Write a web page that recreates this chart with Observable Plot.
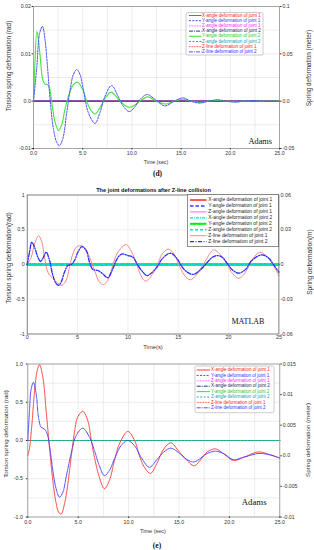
<!DOCTYPE html>
<html><head><meta charset="utf-8">
<script src="https://cdn.jsdelivr.net/npm/d3@7"></script>
<script src="https://cdn.jsdelivr.net/npm/@observablehq/plot@0.6"></script>
<style>
html,body{margin:0;padding:0;background:#fff;}
#page{position:relative;width:314px;height:550px;overflow:hidden;font-family:"Liberation Sans",Arial,sans-serif;}
#page svg{position:absolute;left:0;}
</style></head><body><div id="page"></div>
<script>
// ---------- shared ----------
const seriesNames = [
  "X-angle deformation of joint 1", "Y-angle deformation of joint 1", "Z-angle deformation of joint 1",
  "X-angle deformation of joint 2", "Y-angle deformation of joint 2", "Z-angle deformation of joint 2",
  "Z-line deformation of joint 1", "Z-line deformation of joint 2"];
const flatTime = [0, 25];
const flatVal = [0, 0];

// ---------- panel (d) : Adams ----------
const dTitle = "(d)";
const dXLabel = "Time (sec)";
const dLeftLabel = "Torsion spring deformation (rad)";
const dRightLabel = "Spring deformation (meter)";
const dXTicks = [0, 5, 10, 15, 20, 25];
const dXTickLabels = ["0.0", "5.0", "10.0", "15.0", "20.0", "25.0"];
const dXGrid = [0, 2.5, 5, 7.5, 10, 12.5, 15, 17.5, 20, 22.5, 25];
const dLeftTicks = [-0.01, 0, 0.01, 0.02];
const dLeftTickLabels = ["-0.01", "0.0", "0.01", "0.02"];
const dYGrid = [-0.01, -0.005, 0, 0.005, 0.01, 0.015, 0.02];
const dRightTicks = [-0.05, 0, 0.05, 0.1];
const dRightTickLabels = ["-0.05", "0.0", "0.05", "0.1"];
const dYDomain = [-0.01, 0.02];
const dRightDomain = [-0.05, 0.1];
// Y-angle deformation of joint 1 (blue dashed)
const dTimeY1 = [0, 0.34, 0.61, 0.91, 1.18, 1.42, 1.69, 2.03, 2.36, 2.63, 2.97, 3.38, 3.72, 4.05, 4.39, 4.73, 5.07, 5.57, 6.25, 6.75, 7.26, 7.94, 8.6, 9.1, 9.73, 10.3, 10.8, 11.55, 12.4, 13.35, 14.3, 15.2, 16.0, 16.9, 17.8, 18.7, 19.6, 20.5, 21.4, 22.3, 23.2, 24.1, 25];
const dValY1 = [0, 0.0073, 0.0142, 0.0158, 0.0128, 0.0073, 0.0003, -0.0059, -0.0087, -0.0094, -0.0080, -0.0024, 0.0024, 0.0056, 0.0067, 0.0056, 0.0024, -0.0024, -0.0047, -0.0024, 0.0010, 0.0033, 0.0010, -0.0010, -0.0022, -0.0012, 0.0003, 0.0014, 0.0003, -0.0010, 0, 0.0007, 0, -0.0004, 0, 0.0003, 0, -0.0002, 0, 0.00012, 0, -0.00008, 0];
// Y-angle deformation of joint 2 (green)
const dTimeY2 = [0, 0.13, 0.34, 0.5, 0.68, 0.95, 1.18, 1.42, 1.62, 1.86, 2.2, 2.55, 2.87, 3.2, 3.55, 4.05, 4.5, 5.07, 5.4, 5.8, 6.25, 6.9, 7.4, 7.9, 8.4, 8.8, 9.3, 9.8, 10.3, 10.8, 11.6, 12.5, 13.4, 14.3, 15.2, 16.0, 16.9, 17.8, 18.7, 19.6, 20.5, 21.4, 22.3, 23.2, 24.1, 25];
const dValY2 = [0, 0.0073, 0.0147, 0.0130, 0.0094, 0.0045, 0.0036, 0.0035, 0.0028, -0.0003, -0.0045, -0.0062, -0.0050, -0.0017, 0.0010, 0.0035, 0.0040, 0.0021, 0, -0.0018, -0.0027, -0.0008, 0.0010, 0.0019, 0.0010, 0, -0.0009, -0.0013, -0.0008, 0, 0.0009, 0, -0.0006, 0, 0.0004, 0, -0.00025, 0, 0.0002, 0, -0.00015, 0, 0.0001, 0, -0.00005, 0];

// ---------- panel MATLAB ----------
const mTitle = "The joint deformations after Z-line collision";
const mXLabel = "Time(s)";
const mLeftLabel = "Torsion spring deformation(rad)";
const mRightLabel = "Spring deformation(m)";
const mXTicks = [0, 5, 10, 15, 20, 25];
const mXTickLabels = ["0", "5", "10", "15", "20", "25"];
const mLeftTicks = [-1, -0.5, 0, 0.5, 1];
const mLeftTickLabels = ["-1", "-0.5", "0", "0.5", "1"];
const mRightTicks = [-0.06, -0.03, 0, 0.03, 0.06];
const mRightTickLabels = ["-0.06", "-0.03", "0", "0.03", "0.06"];
const mYDomain = [-1, 1];
const mRightDomain = [-0.06, 0.06];
// Z-line deformation of joint 1 (light red)
const mTimeZ1 = [0, 0.4, 0.73, 1.13, 1.46, 1.72, 2.05, 2.55, 3.05, 3.44, 3.87, 4.2, 4.53, 4.87, 5.2, 5.7, 6.19, 6.69, 7.18, 7.58, 8.0, 8.5, 9.0, 9.83, 10.3, 10.8, 11.3, 11.75, 12.25, 12.9, 13.4, 14.0, 14.5, 15.06, 15.6, 16.2, 16.8, 17.7, 18.5, 19.2, 19.86, 20.4, 21.0, 21.6, 22.4, 23.1, 23.7, 24.4, 25];
const mValZ1 = [0, 0.105, 0.295, 0.414, 0.32, 0.105, -0.11, -0.205, -0.267, -0.30, -0.23, -0.04, 0.152, 0.248, 0.271, 0.248, 0.105, -0.086, -0.252, -0.29, -0.229, -0.014, 0.176, 0.286, 0.2, 0.033, -0.16, -0.24, -0.18, -0.014, 0.15, 0.22, 0.17, 0, -0.15, -0.22, -0.15, 0.05, 0.21, 0.14, 0, -0.13, -0.20, -0.13, 0.08, 0.175, 0.13, 0, -0.16];
// Z-line deformation of joint 2 (blue dash-dot)
const mTimeZ2 = [0, 0.23, 0.46, 0.73, 1.06, 1.32, 1.56, 1.89, 2.22, 2.55, 2.88, 3.11, 3.38, 3.7, 4.04, 4.37, 4.7, 5.03, 5.43, 5.86, 6.19, 6.52, 7.02, 7.5, 8.0, 8.5, 8.84, 9.17, 9.5, 10.0, 10.5, 11.0, 11.5, 11.9, 12.25, 12.9, 13.4, 14.23, 14.9, 15.4, 15.9, 16.5, 17.2, 17.9, 18.4, 18.9, 19.4, 19.9, 20.4, 21.0, 21.7, 22.3, 23.3, 24.0, 24.5, 25];
const mValZ2 = [0, 0.176, 0.32, 0.248, 0.105, 0.043, 0.09, 0.176, 0.057, -0.157, -0.276, -0.30, -0.252, -0.11, -0.014, 0, 0.057, 0.176, 0.257, 0.2, 0.033, -0.071, -0.086, -0.133, -0.19, -0.062, 0.057, 0.129, 0.152, 0.129, 0.105, -0.014, -0.11, -0.16, -0.133, -0.038, 0.081, 0.162, 0.081, -0.038, -0.11, -0.143, -0.076, 0.033, 0.105, 0.129, 0.1, 0.01, -0.08, -0.124, -0.07, 0.057, 0.138, 0.09, -0.01, -0.11];

// ---------- panel (e) : Adams ----------
const eTitle = "(e)";
const eXLabel = "Time (sec)";
const eLeftLabel = "Torsion spring deformation (rad)";
const eRightLabel = "Spring deformation (meter)";
const eXTicks = [0, 5, 10, 15, 20, 25];
const eXTickLabels = ["0.0", "5.0", "10.0", "15.0", "20.0", "25.0"];
const eXGrid = [0, 2.5, 5, 7.5, 10, 12.5, 15, 17.5, 20, 22.5, 25];
const eLeftTicks = [-1, -0.5, 0, 0.5, 1];
const eLeftTickLabels = ["-1.0", "-0.5", "0.0", "0.5", "1.0"];
const eYGrid = [-1, -0.75, -0.5, -0.25, 0, 0.25, 0.5, 0.75, 1];
const eRightTicks = [-0.01, -0.005, 0, 0.005, 0.01, 0.015];
const eRightTickLabels = ["-0.01", "-0.005", "0.0", "0.005", "0.01", "0.015"];
const eYDomain = [-1, 1];
const eRightDomain = [-0.01, 0.015];
// Z-line deformation of joint 1 (red dotted)
const eTimeZ1 = [0, 0.17, 0.4, 0.66, 0.93, 1.16, 1.49, 1.82, 2.15, 2.48, 2.8, 3.07, 3.31, 3.64, 3.97, 4.3, 4.63, 4.96, 5.46, 5.95, 6.28, 6.61, 7.1, 7.6, 8.1, 8.6, 9.1, 9.92, 10.6, 11.08, 11.57, 12.17, 12.8, 13.5, 14.2, 14.97, 15.8, 16.5, 17.1, 17.8, 18.6, 19.4, 20.4, 21.4, 22.9, 24.1, 25];
const eValZ1 = [-0.196, -0.10, 0.20, 0.63, 0.91, 0.99, 0.83, 0.39, -0.09, -0.52, -0.81, -0.94, -0.96, -0.83, -0.57, -0.22, 0.11, 0.31, 0.38, 0.26, 0.02, -0.22, -0.48, -0.63, -0.52, -0.26, -0.04, 0.118, 0.0, -0.2, -0.35, -0.43, -0.3, -0.11, -0.03, -0.14, -0.26, -0.33, -0.26, -0.15, -0.11, -0.17, -0.26, -0.22, -0.15, -0.19, -0.23];
// Z-line deformation of joint 2 (blue dash-dot)
const eTimeZ2 = [0, 0.17, 0.33, 0.56, 0.83, 1.06, 1.32, 1.65, 1.92, 2.15, 2.48, 2.81, 3.14, 3.47, 3.8, 4.3, 4.8, 5.46, 6.12, 6.61, 7.1, 7.6, 8.1, 8.6, 9.26, 9.92, 10.6, 11.24, 12.07, 12.8, 13.5, 14.2, 14.97, 15.8, 16.5, 17.8, 18.6, 19.4, 20.4, 21.4, 22.9, 24.1, 25];
const eValZ2 = [0.0, 0.39, 0.67, 0.76, 0.61, 0.305, 0.174, 0.15, 0.087, -0.065, -0.39, -0.63, -0.74, -0.68, -0.48, -0.17, 0.065, 0.16, 0.044, -0.13, -0.33, -0.46, -0.39, -0.24, -0.065, 0.0, -0.07, -0.22, -0.35, -0.25, -0.15, -0.10, -0.16, -0.25, -0.28, -0.17, -0.14, -0.17, -0.25, -0.22, -0.17, -0.19, -0.23];

// ---------- styles (kept separate from data) ----------
const adamsStyles = [
  {color: "#ff2020", width: 0.9, dash: null},
  {color: "#4a4aff", width: 1.0, dash: "2,1.3"},
  {color: "#ff30ff", width: 0.9, dash: "0.8,0.8"},
  {color: "#1c1c5c", width: 0.9, dash: "4,1,1,1"},
  {color: "#3ee83e", width: 1.1, dash: null},
  {color: "#1a9aaa", width: 0.9, dash: "2,1.5"},
  {color: "#ff3030", width: 0.9, dash: "0.9,0.7"},
  {color: "#3a3aff", width: 0.9, dash: "4,1,1,1"}
];
const adamsTextColors = ["#ff2020", "#3030ff", "#ff20ff", "#1c1c5c", "#22cc22", "#1a9aaa", "#ff2020", "#3030ff"];
const matlabStyles = [
  {color: "#ff5a5a", width: 2.0, dash: null},
  {color: "#3a3aff", width: 1.6, dash: "3.5,2"},
  {color: "#ff66ff", width: 1.0, dash: null},
  {color: "#00dddd", width: 1.2, dash: "3,1,1,1"},
  {color: "#00ee00", width: 2.0, dash: null},
  {color: "#00dddd", width: 1.5, dash: "3,2"},
  {color: "#ff7878", width: 0.9, dash: null},
  {color: "#2a2aff", width: 1.3, dash: "4,1.5,1,1.5"}
];

function rows(ts, vs) { return ts.map((t, i) => ({t, v: vs[i]})); }
function labeler(ticks, labels) {
  return d => { let best = 0; ticks.forEach((t, i) => { if (Math.abs(t - d) < Math.abs(ticks[best] - d)) best = i; }); return labels[best]; };
}

function panel(cfg) {
  const toLeft = d3.scaleLinear(cfg.rightDomain, cfg.yDomain);
  const rightPos = cfg.rightTicks.map(v => toLeft(v));
  const marks = [
    Plot.gridX(cfg.xGrid, {stroke: cfg.gridColor, strokeOpacity: 1, strokeWidth: 0.5}),
    Plot.gridY(cfg.yGrid, {stroke: cfg.gridColor, strokeOpacity: 1, strokeWidth: 0.5})
  ];
  cfg.series.forEach(s => {
    marks.push(Plot.line(rows(s.t, s.v), {
      x: "t", y: "v", stroke: s.style.color, strokeWidth: s.style.width,
      strokeDasharray: s.style.dash || undefined, curve: "catmull-rom"
    }));
  });
  marks.push(Plot.frame({stroke: cfg.frameColor, strokeWidth: 0.7}));
  marks.push(Plot.axisX(cfg.xTicks, {tickFormat: labeler(cfg.xTicks, cfg.xLabels), tickSize: cfg.tickSize, tickPadding: 1.5, label: null, fontSize: cfg.fontSize}));
  marks.push(Plot.axisY(cfg.leftTicks, {tickFormat: labeler(cfg.leftTicks, cfg.leftLabels), tickSize: cfg.tickSize, tickPadding: cfg.leftPad, label: null, fontSize: cfg.fontSize}));
  marks.push(Plot.axisY(rightPos, {anchor: "right", tickFormat: labeler(rightPos, cfg.rightLabels), tickSize: cfg.tickSize, tickPadding: 1.5, label: null, fontSize: cfg.fontSize}));
  const svg = Plot.plot({
    width: 314, height: cfg.height,
    marginLeft: cfg.ml, marginRight: cfg.mr, marginTop: cfg.mt, marginBottom: cfg.mb,
    x: {domain: [0, 25]}, y: {domain: cfg.yDomain},
    style: {background: "transparent", fontFamily: "Liberation Sans, Arial, sans-serif", fontSize: cfg.fontSize + "px", color: "#333", overflow: "visible"},
    marks
  });
  svg.style.top = cfg.top + "px";
  svg.style.pointerEvents = "none";
  document.getElementById("page").appendChild(svg);
}

// (d)
panel({
  top: 0, height: 170, ml: 33, mr: 35, mt: 6, mb: 22,
  yDomain: dYDomain, rightDomain: dRightDomain,
  xGrid: dXGrid, yGrid: dYGrid, xTicks: dXTicks, xLabels: dXTickLabels,
  leftTicks: dLeftTicks, leftLabels: dLeftTickLabels, rightTicks: dRightTicks, rightLabels: dRightTickLabels,
  gridColor: "#d8d8d8", frameColor: "#888",
  tickSize: 1.5, leftPad: 1.2, fontSize: 5.2,
  series: [
    {t: flatTime, v: flatVal, style: adamsStyles[0]},
    {t: flatTime, v: flatVal, style: adamsStyles[2]},
    {t: flatTime, v: flatVal, style: adamsStyles[3]},
    {t: flatTime, v: flatVal, style: adamsStyles[5]},
    {t: flatTime, v: flatVal, style: adamsStyles[6]},
    {t: flatTime, v: flatVal, style: adamsStyles[7]},
    {t: dTimeY2, v: dValY2, style: adamsStyles[4]},
    {t: dTimeY1, v: dValY1, style: adamsStyles[1]}
  ]
});

// MATLAB
panel({
  top: 180, height: 170, ml: 26.7, mr: 35.6, mt: 14.5, mb: 16.5,
  yDomain: mYDomain, rightDomain: mRightDomain,
  xGrid: mXTicks, yGrid: mLeftTicks, xTicks: mXTicks, xLabels: mXTickLabels,
  leftTicks: mLeftTicks, leftLabels: mLeftTickLabels, rightTicks: mRightTicks, rightLabels: mRightTickLabels,
  gridColor: "#e2e2e2", frameColor: "#555",
  tickSize: 0, leftPad: 2.5, fontSize: 5.4,
  series: [
    {t: flatTime, v: flatVal, style: matlabStyles[0]},
    {t: flatTime, v: flatVal, style: matlabStyles[1]},
    {t: flatTime, v: flatVal, style: matlabStyles[2]},
    {t: flatTime, v: flatVal, style: matlabStyles[3]},
    {t: flatTime, v: flatVal, style: matlabStyles[4]},
    {t: flatTime, v: flatVal, style: matlabStyles[5]},
    {t: mTimeZ1, v: mValZ1, style: matlabStyles[6]},
    {t: mTimeZ2, v: mValZ2, style: matlabStyles[7]}
  ]
});

// (e)
panel({
  top: 355, height: 180, ml: 27.3, mr: 34.7, mt: 8.5, mb: 18.5,
  yDomain: eYDomain, rightDomain: eRightDomain,
  xGrid: eXGrid, yGrid: eYGrid, xTicks: eXTicks, xLabels: eXTickLabels,
  leftTicks: eLeftTicks, leftLabels: eLeftTickLabels, rightTicks: eRightTicks, rightLabels: eRightTickLabels,
  gridColor: "#d8d8d8", frameColor: "#888",
  tickSize: 1.5, leftPad: 3.5, fontSize: 5.2,
  series: [
    {t: flatTime, v: flatVal, style: adamsStyles[0]},
    {t: flatTime, v: flatVal, style: adamsStyles[1]},
    {t: flatTime, v: flatVal, style: adamsStyles[2]},
    {t: flatTime, v: flatVal, style: adamsStyles[3]},
    {t: flatTime, v: flatVal, style: adamsStyles[4]},
    {t: flatTime, v: flatVal, style: adamsStyles[5]},
    {t: eTimeZ1, v: eValZ1, style: adamsStyles[6]},
    {t: eTimeZ2, v: eValZ2, style: adamsStyles[7]}
  ]
});

// ---------- annotations & legends overlay ----------
const ov = d3.select("#page").append("svg")
  .attr("width", 314).attr("height", 550).style("top", "0px")
  .style("font-family", "Liberation Sans, Arial, sans-serif");

function txt(x, y, s, o = {}) {
  const t = ov.append("text").attr("x", x).attr("y", y).text(s)
    .attr("font-size", o.size || 5.2).attr("fill", o.fill || "#333")
    .attr("text-anchor", o.anchor || "middle");
  if (o.weight) t.attr("font-weight", o.weight);
  if (o.family) t.attr("font-family", o.family);
  return t;
}
function vtxt(x, y, s, size) {
  ov.append("text").attr("transform", `translate(${x},${y}) rotate(-90)`)
    .attr("text-anchor", "middle").attr("dominant-baseline", "middle")
    .attr("font-size", size).attr("fill", "#333").text(s);
}
const serif = "Liberation Serif, Times New Roman, serif";

// (d)
txt(156, 163.5, dXLabel, {size: 5.2});
vtxt(9.5, 66, dLeftLabel, 6.4);
vtxt(309.5, 68, dRightLabel, 6.4);
txt(248.5, 143.5, "Adams", {size: 8.3, anchor: "start", family: serif, fill: "#111"});
txt(157.5, 175.5, dTitle, {size: 7.5, weight: "bold", family: serif, fill: "#111"});
// MATLAB
txt(153.5, 192, mTitle, {size: 5.6, weight: "bold", fill: "#111"});
txt(153, 348.5, mXLabel, {size: 5.8});
vtxt(9.5, 258, mLeftLabel, 6.6);
vtxt(310, 262, mRightLabel, 6.6);
txt(231.5, 323.5, "MATLAB", {size: 8, anchor: "start", family: serif, fill: "#111"});
// (e)
txt(153, 532.5, eXLabel, {size: 5.5});
vtxt(6.5, 434, eLeftLabel, 6.2);
vtxt(308.5, 440, eRightLabel, 6.2);
txt(241.7, 504.5, "Adams", {size: 8.8, anchor: "start", family: serif, fill: "#111"});
txt(157, 547.5, eTitle, {size: 7.5, weight: "bold", family: serif, fill: "#111"});

function legend(box, rowY0, rowStep, lineX0, lineX1, textX, fontSize, styles, textColors, boxStroke, rx) {
  ov.append("rect").attr("x", box[0]).attr("y", box[1]).attr("width", box[2] - box[0]).attr("height", box[3] - box[1])
    .attr("fill", "#fff").attr("stroke", boxStroke).attr("stroke-width", 0.6).attr("rx", rx);
  seriesNames.forEach((name, i) => {
    const y = rowY0 + i * rowStep;
    const st = styles[i];
    ov.append("line").attr("x1", lineX0).attr("x2", lineX1).attr("y1", y).attr("y2", y)
      .attr("stroke", st.color).attr("stroke-width", st.width).attr("stroke-dasharray", st.dash || null);
    ov.append("text").attr("x", textX).attr("y", y).attr("dominant-baseline", "middle")
      .attr("font-size", fontSize).attr("fill", textColors[i]).text(name);
  });
}
legend([186, 12.5, 263, 55], 15.5, 5.2, 189, 201.5, 202, 4.5, adamsStyles, adamsTextColors, "#aaa", 1.5);
legend([187.7, 194.3, 278.3, 246.7], 200, 5.95, 190, 206.5, 208.3, 4.9, matlabStyles, seriesNames.map(() => "#222"), "#444", 0);
legend([195, 366, 274, 412.7], 370, 5.4, 196.7, 210, 211, 4.5, adamsStyles, adamsTextColors, "#aaa", 1.5);
</script></body></html>
